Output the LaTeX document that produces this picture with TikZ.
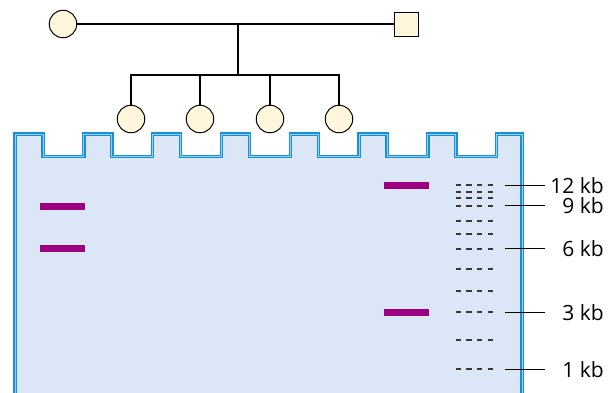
\documentclass[tikz,border=0pt]{standalone}
\usepackage{fontspec}
\setmainfont{Open Sans}
\definecolor{cream}{HTML}{FFF6DC}
\definecolor{gelfill}{HTML}{DBE7F6}
\definecolor{gelblue}{HTML}{1A8FD6}
\definecolor{gellight}{HTML}{8FD2F5}
\definecolor{bandcol}{HTML}{9C0080}
\definecolor{laddercol}{HTML}{383838}
\tikzset{
  female/.style={circle, draw=black, line width=1pt, fill=cream, minimum size=27.5pt, inner sep=0pt},
  male/.style={rectangle, draw=black, line width=1pt, fill=cream, minimum size=24pt, inner sep=0pt},
  pedline/.style={draw=black, line width=2pt},
  band/.style={rectangle, fill=bandcol, minimum width=45pt, minimum height=7pt, inner sep=0pt},
  ladder/.style={draw=laddercol, line width=2pt, dash pattern=on 5.3pt off 5.4pt},
  sizeline/.style={draw=black, line width=1pt},
  sizelabel/.style={anchor=east, inner sep=0pt, font=\fontsize{21}{22}\selectfont},
  geledge/.style={draw=gelblue, line width=1.2pt, double=gellight, double distance=1pt, line join=miter}
}
\begin{document}
\begin{tikzpicture}[x=1pt,y=-1pt]
\useasboundingbox (0,0) rectangle (611,392);
% gel
\fill[gelfill] (15,396) -- (15,134)
  \foreach \i in {0,...,6} {
    -- ++(28,0) -- ++(0,22.6) -- ++(40.8,0) -- ++(0,-22.6)
  } -- (522,134) -- (522,396) -- cycle;
\draw[geledge] (15,396) -- (15,134)
  \foreach \i in {0,...,6} {
    -- ++(28,0) -- ++(0,22.6) -- ++(40.8,0) -- ++(0,-22.6)
  } -- (522,134) -- (522,396);
% pedigree
\node[female] (mother) at (63,24) {};
\node[male] (father) at (406,24) {};
\node[female] (c1) at (131,119) {};
\node[female] (c2) at (200,119) {};
\node[female] (c3) at (270,119) {};
\node[female] (c4) at (339,119) {};
\coordinate (mate) at (238,24);
\coordinate (sib) at (238,75);
\draw[pedline] (mother) -- (father);
\draw[pedline] (mate) -- (sib);
\draw[pedline] (c1.north) |- (sib) -| (c4.north);
\draw[pedline] (c2.north) -- (c2 |- sib);
\draw[pedline] (c3.north) -- (c3 |- sib);
% bands
\node[band] (b1) at (62.5,206.5) {};
\node[band] (b2) at (62.5,248.5) {};
\node[band] (b3) at (406.5,185.5) {};
\node[band] (b4) at (406.5,312.5) {};
% ladder
\foreach \y in {185,192,198,206,221,234,249,269,291,312,340,369} {
  \draw[ladder] (455.7,\y) -- (496,\y);
}
% size labels
\foreach \y/\t/\n in {185.5/12 kb/l12, 205.5/9 kb/l9, 248.5/6 kb/l6, 312.5/3 kb/l3, 369.5/1 kb/l1} {
  \node[sizelabel] (\n) at (604,\y) {\t};
  \coordinate (\n a) at (505,\y);
  \coordinate (\n b) at (545,\y);
  \draw[sizeline] (\n a) -- (\n b);
}
\end{tikzpicture}
\end{document}
